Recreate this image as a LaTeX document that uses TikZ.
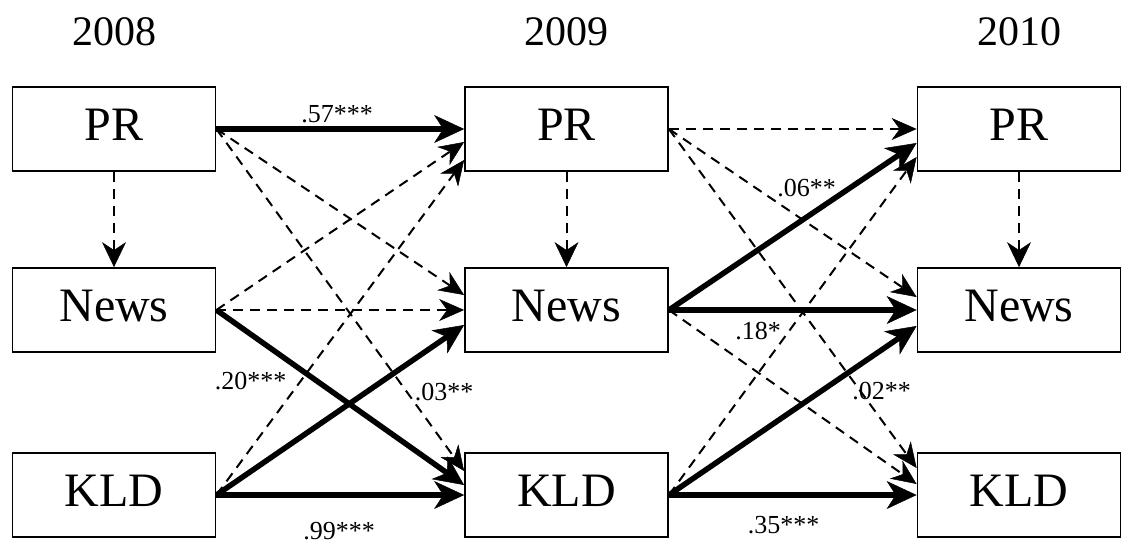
\documentclass[tikz,border=0pt]{standalone}
\usepackage{fontspec}
\setmainfont{Liberation Serif}
\usetikzlibrary{arrows.meta,calc}
\begin{document}
\begin{tikzpicture}[x=1pt,y=-1pt,
 box/.style={draw,line width=1.8pt,minimum width=203pt,minimum height=84pt,inner sep=0pt,
   text height=33pt,text depth=10pt,font=\fontsize{48}{50}\selectfont},
 year/.style={font=\fontsize{42}{44}\selectfont,inner sep=0pt,anchor=base},
 lab/.style={font=\fontsize{26}{28}\selectfont,inner sep=0pt,anchor=base},
 sig/.style={line width=5.5pt,-{Stealth[length=30pt,width=28pt,inset=9pt,line width=0.5pt]}},
 ns/.style={line width=2pt,dash pattern=on 10pt off 7pt,-{Stealth[length=25pt,width=22pt,inset=8pt,line width=0.5pt]}},
 vs/.style={line width=2pt,dash pattern=on 10pt off 7pt,-{Stealth[length=25pt,width=24pt,inset=8pt,line width=0.5pt]}},
]
\useasboundingbox (0,0) rectangle (1123,544);

% year headings
\node[year] (y1) at (114,45.5) {2008};
\node[year] (y2) at (566.5,45.5) {2009};
\node[year] (y3) at (1019,45.5) {2010};

% boxes
\node[box] (PR1) at (114,129) {PR};
\node[box] (News1) at (114,310) {News};
\node[box] (KLD1) at (114,495) {KLD};
\node[box] (PR2) at (566.5,129) {PR};
\node[box] (News2) at (566.5,310) {News};
\node[box] (KLD2) at (566.5,495) {KLD};
\node[box] (PR3) at (1019,129) {PR};
\node[box] (News3) at (1019,310) {News};
\node[box] (KLD3) at (1019,495) {KLD};

% within-year
\draw[vs] (PR1.south) -- (News1.north);
\draw[vs] (PR2.south) -- (News2.north);
\draw[vs] (PR3.south) -- (News3.north);

% 2008 -> 2009
\draw[sig] (PR1.east) -- (PR2.west);
\draw[ns] (PR1.east) -- ($(News2.west)+(0,-15)$);
\draw[ns] (PR1.east) -- ($(KLD2.west)+(0,-24)$);
\draw[ns] (News1.east) -- ($(PR2.west)+(0,13)$);
\draw[ns] (News1.east) -- (News2.west);
\draw[sig] (News1.east) -- ($(KLD2.west)+(0,-10)$);
\draw[ns] (KLD1.east) -- ($(PR2.west)+(0,31)$);
\draw[sig] (KLD1.east) -- ($(News2.west)+(0,15)$);
\draw[sig] (KLD1.east) -- (KLD2.west);

% 2009 -> 2010
\draw[ns] (PR2.east) -- (PR3.west);
\draw[ns] (PR2.east) -- ($(News3.west)+(0,-13)$);
\draw[ns] (PR2.east) -- ($(KLD3.west)+(0,-27)$);
\draw[sig] (News2.east) -- ($(PR3.west)+(0,14)$);
\draw[sig] (News2.east) -- (News3.west);
\draw[ns] (News2.east) -- ($(KLD3.west)+(0,-11)$);
\draw[ns] (KLD2.east) -- ($(PR3.west)+(0,28)$);
\draw[sig] (KLD2.east) -- ($(News3.west)+(0,16)$);
\draw[sig] (KLD2.east) -- (KLD3.west);

% coefficients
\node[lab] (l57) at (337,122.5) {.57***};
\node[lab] (l20) at (250.5,389) {.20***};
\node[lab] (l03) at (444,400) {.03**};
\node[lab] (l99) at (339,539.5) {.99***};
\node[lab] (l06) at (806.5,196.7) {.06**};
\node[lab] (l18) at (758,339.3) {.18*};
\node[lab] (l02) at (881.5,399) {.02**};
\node[lab] (l35) at (783.5,533) {.35***};
\end{tikzpicture}
\end{document}
